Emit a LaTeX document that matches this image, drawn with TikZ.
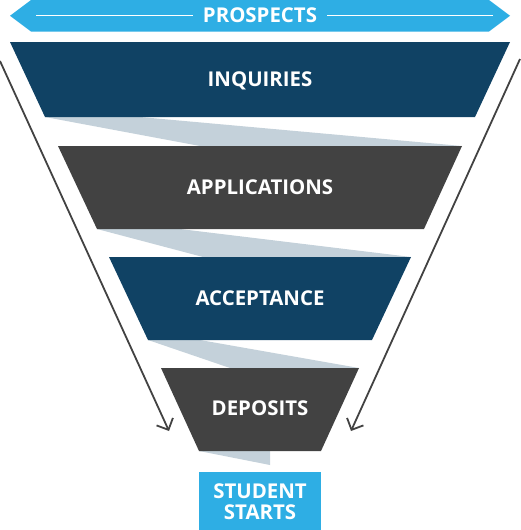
\documentclass[tikz,border=0pt]{standalone}
\usepackage{fontspec}
\setmainfont{Open Sans}
\usetikzlibrary{arrows.meta}
\definecolor{funnelnavy}{RGB}{16,66,100}
\definecolor{funnelgrey}{RGB}{66,66,66}
\definecolor{funnelshade}{RGB}{196,209,218}
\definecolor{funnelsky}{RGB}{46,174,228}

\begin{document}
\begin{tikzpicture}[x=1pt, y=-1pt,
    lbl/.style={text=white, font=\fontsize{20.4}{21}\selectfont\bfseries,
                align=center, inner sep=0pt},
    ribbon/.style={fill=funnelshade},
    arr/.style={-{Straight Barb[length=9pt,width=18pt]}, line width=1.8pt,
                color=funnelgrey}]
    \useasboundingbox (0,0) rectangle (520,530);

    % prospects banner
    \fill[funnelsky] (10,15.75) -- (31,0) -- (489,0) -- (510,15.75)
                     -- (489,31.5) -- (31,31.5) -- cycle;
    \node[lbl, inner xsep=10pt, anchor=base] (pros) at (260,22.3) {PROSPECTS};
    \coordinate (pl) at (36,15.7);
    \coordinate (pr) at (493,15.7);
    \draw[white, line width=1.3pt] (pl) -- (pl -| pros.west);
    \draw[white, line width=1.3pt] (pr) -- (pr -| pros.east);

    % ribbons between the stages
    \fill[ribbon] (45,117) -- (140,117) -- (462,146) -- (200,146) -- cycle;
    \fill[ribbon] (97,229) -- (180,229) -- (411,257) -- (203,257) -- cycle;
    \fill[ribbon] (148,340) -- (200,340) -- (359,368) -- (230,368) -- cycle;
    \fill[ribbon] (199,451) -- (270,451) -- (270,465) -- cycle;

    % stages
    \fill[funnelnavy] (10,42)   -- (510,42)  -- (475,117) -- (45,117)  -- cycle;
    \fill[funnelgrey] (58,146)  -- (462,146) -- (424,229) -- (97,229)  -- cycle;
    \fill[funnelnavy] (109,257) -- (411,257) -- (372,340) -- (148,340) -- cycle;
    \fill[funnelgrey] (161,368) -- (359,368) -- (321,451) -- (199,451) -- cycle;

    \node[lbl, anchor=base] (inq) at (260,86)    {INQUIRIES};
    \node[lbl, anchor=base] (app) at (260,194)   {APPLICATIONS};
    \node[lbl, anchor=base] (acc) at (260,305)   {ACCEPTANCE};
    \node[lbl, anchor=base] (dep) at (260,415.7) {DEPOSITS};

    \node[lbl, fill=funnelsky, minimum width=122pt, minimum height=60pt,
          anchor=north] (start) at (260,472) {STUDENT\\STARTS};

    % side arrows
    \coordinate (la0) at (0,61);
    \coordinate (la1) at (169,431);
    \coordinate (ra0) at (520,59);
    \coordinate (ra1) at (351,431);
    \draw[arr] (la0) -- (la1);
    \draw[arr] (ra0) -- (ra1);

\end{tikzpicture}
\end{document}
